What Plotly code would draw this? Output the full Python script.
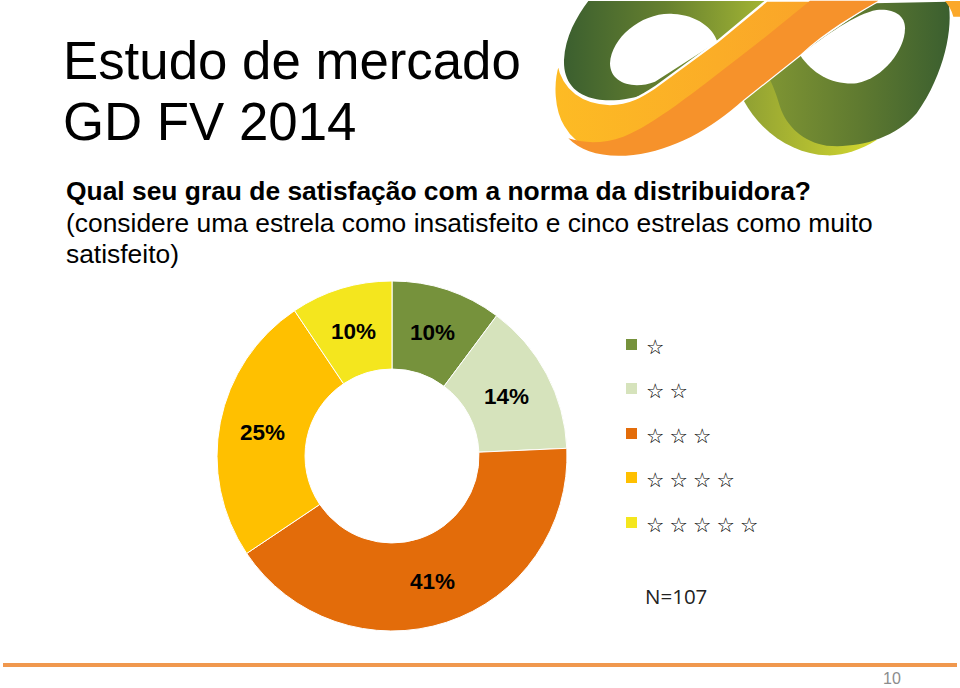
import base64
import plotly.graph_objects as go

# shares measured off the ring, clockwise from 12 o'clock
shares = [10.2, 14.1, 41.3, 25.0, 9.4]
slice_labels = ["10%", "14%", "41%", "25%", "10%"]
slice_colors = ["#76923C", "#D6E3BC", "#E36C0A", "#FFC000", "#F4E61E"]
stars = ["☆", "☆\u2005☆", "☆\u2005☆\u2005☆", "☆\u2005☆\u2005☆\u2005☆", "☆\u2005☆\u2005☆\u2005☆\u2005☆"]

W, H = 960, 688


def px_x(x):
    return x / W


def px_y(y):
    return 1 - y / H


# logo as inline svg so the gradients survive
logo_svg = """<svg xmlns="http://www.w3.org/2000/svg" viewBox="0 0 1260 510" width="1260" height="510">
<defs>
<linearGradient id="gl" x1="0" x2="1" y1="0" y2="0"><stop offset="0" stop-color="#3B5F2F"/><stop offset="0.5" stop-color="#66802F"/><stop offset="1" stop-color="#A3B534"/></linearGradient>
<linearGradient id="gr" x1="0" x2="1" y1="0" y2="0"><stop offset="0" stop-color="#7E9433"/><stop offset="0.5" stop-color="#5F7A30"/><stop offset="1" stop-color="#3B5F2F"/></linearGradient>
<linearGradient id="gy" x1="0" x2="1" y1="0" y2="0"><stop offset="0" stop-color="#8FA033"/><stop offset="1" stop-color="#D5D92F"/></linearGradient>
<linearGradient id="go" x1="0" x2="1" y1="0" y2="0"><stop offset="0" stop-color="#FDBB24"/><stop offset="1" stop-color="#F99F2A"/></linearGradient>
</defs>
<path fill="url(#gl)" d="M145,3 L680,3 L620,160 L330,275 C280,300 210,305 170,298 C100,285 70,240 72,180 C75,110 110,50 145,3 Z"/>
<path fill="#fff" d="M210,190 C215,110 310,35 400,42 C470,45 520,85 532,125 L345,245 C280,270 210,250 210,190 Z"/>
<path fill="url(#gy)" d="M610,300 L780,170 L1010,420 C960,450 910,468 860,466 C770,462 670,410 610,300 Z"/>
<path fill="url(#gr)" d="M690,240 L780,160 L1000,10 L1225,5 C1240,80 1215,220 1130,340 C1060,420 950,445 860,437 C790,425 740,380 720,320 C710,285 700,260 690,240 Z"/>
<path fill="#fff" d="M780,165 C820,225 880,255 950,250 C1030,235 1095,150 1095,85 C1095,45 1060,25 1010,30 C950,40 850,110 780,165 Z"/>
<path fill="url(#go)" stroke="#fff" stroke-width="7" d="M55,190 C70,270 130,310 210,312 C270,312 310,285 345,262 L532,125 L680,2 L1015,2 C950,40 860,90 780,165 L610,300 C510,390 400,450 280,465 C190,475 110,450 70,380 C40,330 35,250 55,190 Z"/>
<path fill="#F6922B" d="M85,415 C130,430 190,432 250,410 C340,375 470,270 600,170 C680,110 750,50 810,2 L1015,2 C950,40 860,90 780,165 L610,300 C510,390 400,450 280,465 C190,475 125,455 85,415 Z"/>
<path fill="#FBA82A" d="M1215,3 L1260,3 L1260,50 L1240,50 C1235,30 1225,15 1215,3 Z"/>
</svg>"""
logo_uri = "data:image/svg+xml;base64," + base64.b64encode(logo_svg.encode()).decode()

fig = go.Figure()
fig.add_trace(go.Pie(
    values=shares,
    labels=stars,
    sort=False,
    direction="clockwise",
    rotation=0,
    hole=0.497,
    textinfo="none",
    marker=dict(colors=slice_colors, line=dict(color="#FFFFFF", width=1)),
    domain=dict(x=[px_x(217), px_x(567)], y=[px_y(631), px_y(281)]),
    showlegend=False,
))

annotations = []


def add_text(x, y, text, size, color="#000000", family="Liberation Sans", anchor="left", bold=False):
    annotations.append(dict(
        xref="paper", yref="paper", x=px_x(x), y=px_y(y),
        xanchor=anchor, yanchor="middle", showarrow=False,
        text=f"<b>{text}</b>" if bold else text,
        font=dict(size=size, color=color, family=family),
    ))


add_text(61, 60, "Estudo de mercado", 52.8)
add_text(61, 122, "GD FV 2014", 52.8)
add_text(64, 191, "Qual seu grau de satisfação com a norma da distribuidora?", 26.4, bold=True)
add_text(64, 223, "(considere uma estrela como insatisfeito e cinco estrelas como muito", 26.4)
add_text(64, 254, "satisfeito)", 26.4)

label_pos = [(432, 332), (507, 396), (432, 581), (262, 432), (353, 331)]
for (lx, ly), lab in zip(label_pos, slice_labels):
    add_text(lx, ly, lab, 22.5, anchor="center", bold=True)

legend_y = [345, 389, 434, 478, 523]
shapes = []
for ly, col, st in zip(legend_y, slice_colors, stars):
    shapes.append(dict(type="rect", xref="paper", yref="paper",
                       x0=px_x(626), x1=px_x(637), y0=px_y(ly - 6), y1=px_y(ly + 5),
                       fillcolor=col, line=dict(width=0)))
    add_text(644, ly + 2, st, 20.5, family="DejaVu Sans")

add_text(643, 596, "N=107", 20.5, color="#222222", family="Open Sans")
add_text(881, 678, "10", 16, color="#8C8C8C")

# footer rule
shapes.append(dict(type="rect", xref="paper", yref="paper",
                   x0=px_x(3), x1=px_x(957), y0=px_y(667), y1=px_y(663),
                   fillcolor="#F0984E", line=dict(width=0)))

fig.update_layout(
    width=W, height=H,
    margin=dict(l=0, r=0, t=0, b=0),
    paper_bgcolor="#FFFFFF",
    plot_bgcolor="#FFFFFF",
    annotations=annotations,
    shapes=shapes,
    images=[dict(source=logo_uri, xref="paper", yref="paper",
                 x=px_x(540), y=px_y(0), sizex=420 / W, sizey=170 / H,
                 xanchor="left", yanchor="top", sizing="stretch", layer="below")],
)
# page body has a default 8px margin, drop it so the figure fills the window
fig.write_html("out.html", config=dict(displayModeBar=False),
               post_script="document.body.style.margin='0';")
